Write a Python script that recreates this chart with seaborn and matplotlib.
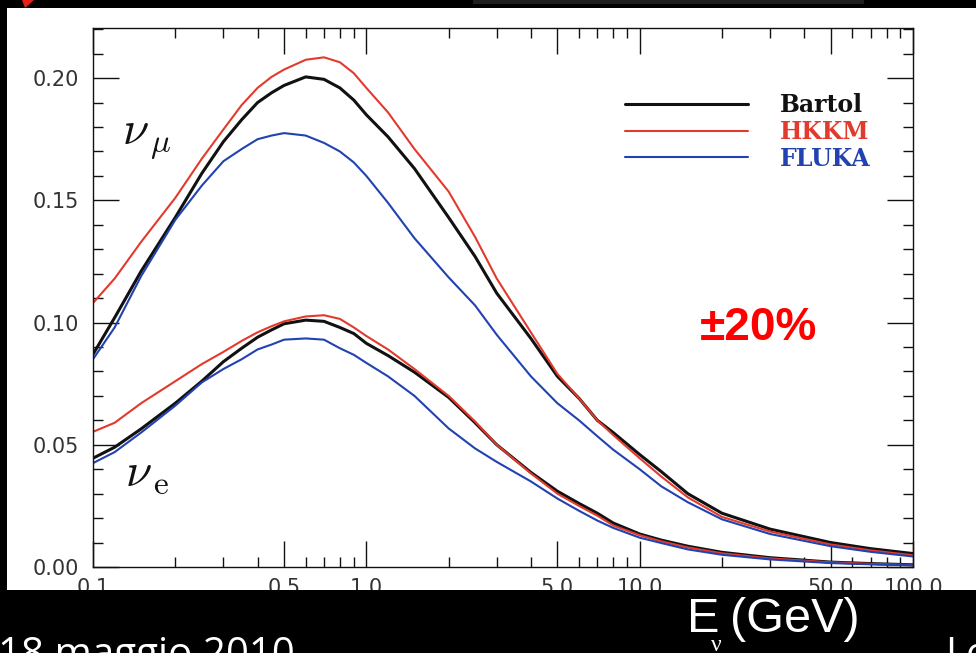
import matplotlib
matplotlib.use("Agg")
import numpy as np
import pandas as pd
import matplotlib.pyplot as plt
import seaborn as sns
from matplotlib.lines import Line2D
from matplotlib.patches import Rectangle, Polygon
from matplotlib.ticker import NullFormatter

# neutrino energy (GeV)
energy = [0.1, 0.12, 0.15, 0.2, 0.25, 0.3, 0.35, 0.4, 0.45, 0.5, 0.6, 0.7, 0.8, 0.9, 1.0, 1.2, 1.5,
          2, 2.5, 3, 4, 5, 6, 7, 8, 10, 12, 15, 20, 30, 50, 70, 100]

numu_bartol = [0.087, 0.102, 0.121, 0.143, 0.161, 0.174, 0.183, 0.190, 0.194, 0.197, 0.2005, 0.1995, 0.196,
               0.191, 0.185, 0.176, 0.163, 0.143, 0.127, 0.112, 0.0935, 0.078, 0.069, 0.060, 0.055,
               0.046, 0.039, 0.030, 0.022, 0.0155, 0.010, 0.0075, 0.0055]
numu_hkkm = [0.108, 0.118, 0.133, 0.151, 0.167, 0.179, 0.189, 0.196, 0.2005, 0.2035, 0.2075, 0.2085, 0.2065,
             0.202, 0.196, 0.186, 0.171, 0.1536, 0.135, 0.118, 0.096, 0.079, 0.069, 0.060, 0.054,
             0.0445, 0.037, 0.0285, 0.0205, 0.0145, 0.0092, 0.0068, 0.0048]
numu_fluka = [0.085, 0.098, 0.119, 0.142, 0.156, 0.166, 0.171, 0.175, 0.1765, 0.1775, 0.1765, 0.1735, 0.170,
              0.1655, 0.160, 0.149, 0.1345, 0.1185, 0.107, 0.095, 0.078, 0.067, 0.060, 0.0535, 0.048,
              0.040, 0.033, 0.0265, 0.0195, 0.0135, 0.0085, 0.0062, 0.0043]

nue_bartol = [0.0445, 0.049, 0.0565, 0.067, 0.076, 0.084, 0.0895, 0.094, 0.097, 0.0995, 0.101, 0.1005, 0.098,
              0.0955, 0.0915, 0.0865, 0.0797, 0.0694, 0.059, 0.050, 0.0387, 0.031, 0.026, 0.022, 0.018,
              0.0135, 0.011, 0.0085, 0.006, 0.0038, 0.002, 0.0014, 0.0009]
nue_hkkm = [0.0553, 0.059, 0.067, 0.076, 0.083, 0.088, 0.0925, 0.096, 0.0985, 0.1005, 0.1025, 0.103, 0.1015,
            0.098, 0.0945, 0.089, 0.081, 0.0700, 0.0595, 0.0500, 0.0383, 0.030, 0.025, 0.021, 0.017,
            0.013, 0.0105, 0.0080, 0.0056, 0.0035, 0.0019, 0.0013, 0.0008]
nue_fluka = [0.0425, 0.047, 0.055, 0.066, 0.0755, 0.081, 0.085, 0.089, 0.091, 0.093, 0.0935, 0.093, 0.0895,
             0.0868, 0.0835, 0.078, 0.070, 0.0567, 0.0485, 0.043, 0.035, 0.028, 0.023, 0.019, 0.016,
             0.012, 0.0098, 0.0072, 0.0050, 0.0031, 0.0016, 0.0011, 0.0007]

models = ["Bartol", "HKKM", "FLUKA"]
palette = {"Bartol": "#111111", "HKKM": "#e23a2c", "FLUKA": "#2142b0"}
widths = {"Bartol": 2.2, "HKKM": 1.5, "FLUKA": 1.5}

xtick_vals = [0.1, 0.5, 1, 5, 10, 50, 100]
xtick_labels = ["0.1", "0.5", "1.0", "5.0", "10.0", "50.0", "100.0"]
ytick_vals = [0.0, 0.05, 0.10, 0.15, 0.20]
ytick_labels = ["0.00", "0.05", "0.10", "0.15", "0.20"]

rows = []
for flavour, curves in [("numu", [numu_bartol, numu_hkkm, numu_fluka]),
                        ("nue", [nue_bartol, nue_hkkm, nue_fluka])]:
    for model, vals in zip(models, curves):
        for e, v in zip(energy, vals):
            rows.append({"flavour": flavour, "model": model, "energy": e, "flux": v})
df = pd.DataFrame(rows)

sns.set_theme(style="ticks")
plt.rcParams["font.family"] = ["DejaVu Sans"]
plt.rcParams["mathtext.fontset"] = "cm"

W, H = 976, 653
px = lambda x, y: (x / W, 1 - y / H)

fig = plt.figure(figsize=(W / 100, H / 100), dpi=100, facecolor="black")
# white scanned page
fig.add_artist(Rectangle(px(7, 590), (W - 7) / W, (590 - 8) / H, transform=fig.transFigure,
                         facecolor="white", edgecolor="none", zorder=-1))

ax = fig.add_axes([93 / W, 1 - 567 / H, 820 / W, 539 / H])
ax.set_facecolor("none")
sns.lineplot(data=df, x="energy", y="flux", hue="model", units="flavour", estimator=None,
             size="model", sizes=widths, palette=palette, hue_order=models,
             sort=False, legend=False, ax=ax)
for line in ax.lines:
    line.set_solid_joinstyle("round")

ax.set_xscale("log")
ax.set_xlim(0.1, 100)
ax.set_ylim(0, 0.2205)
ax.set_xticks(xtick_vals, xtick_labels)
ax.set_xticks([0.2, 0.3, 0.4, 0.6, 0.7, 0.8, 0.9, 2, 3, 4, 6, 7, 8, 9,
               20, 30, 40, 60, 70, 80, 90], minor=True)
ax.xaxis.set_minor_formatter(NullFormatter())
ax.set_yticks(ytick_vals, ytick_labels)
ax.set_yticks([v / 100 for v in range(1, 23) if v % 5 != 0], minor=True)
ax.set_xlabel("")
ax.set_ylabel("")

ax.tick_params(which="both", direction="in", top=True, right=True, color="#111111",
               labelcolor="#333333", labelsize=15)
ax.tick_params(which="major", length=19, width=1.0)
ax.tick_params(which="minor", length=7, width=1.0)
ax.tick_params(axis="x", which="major", pad=8)
ax.tick_params(axis="y", which="major", pad=10)
for s in ax.spines.values():
    s.set_color("#111111")
    s.set_linewidth(1.0)

handles = [Line2D([], [], color=palette[m], lw=widths[m]) for m in models]
leg = ax.legend(handles, models, loc="upper left",
                bbox_to_anchor=((625 - 93) / 820, (567 - 93) / 539),
                frameon=False, handlelength=5.2, handletextpad=1.35, labelspacing=0.12,
                borderpad=0, borderaxespad=0,
                prop={"family": "DejaVu Serif", "weight": "bold", "size": 17})
for t, m in zip(leg.get_texts(), models):
    t.set_color(palette[m])

fig.text(*px(122, 145), r"$\nu_{\,\mu}$", fontsize=34, color="#111111", va="baseline")
fig.text(*px(125, 486), r"$\nu_{\,\mathrm{e}}$", fontsize=34, color="#111111", va="baseline")
fig.text(*px(700, 340), "±20%", color="#ff0000", fontsize=33, fontweight="bold",
         family="Liberation Sans", va="baseline")

# slide frame around the scan
fig.add_artist(Rectangle((0, 0), 1, 1 - 590 / H, transform=fig.transFigure,
                         facecolor="black", edgecolor="none", zorder=5))
fig.add_artist(Rectangle(px(473, 4), 391 / W, 4 / H, transform=fig.transFigure,
                         facecolor="#1e1e1e", edgecolor="none", zorder=5))
fig.add_artist(Polygon([px(22, 0), px(34, 0), px(25, 8)], closed=True, transform=fig.transFigure,
                       facecolor="#e8201c", edgecolor="none", zorder=5))
fig.text(*px(-2, 666), "18 maggio 2010", color="white", fontsize=29, family="Open Sans",
         va="baseline", zorder=6)
fig.text(*px(687, 632), "E", color="white", fontsize=35, family="Liberation Sans",
         va="baseline", zorder=6)
fig.text(*px(711, 651), "ν", color="white", fontsize=17, family="Liberation Serif",
         va="baseline", zorder=6)
fig.text(*px(730, 632), "(GeV)", color="white", fontsize=35, family="Liberation Sans",
         va="baseline", zorder=6)
fig.text(*px(945, 666), "Le", color="white", fontsize=29, family="Open Sans",
         va="baseline", zorder=6)

fig.savefig("out.png", dpi=100, facecolor="black")
